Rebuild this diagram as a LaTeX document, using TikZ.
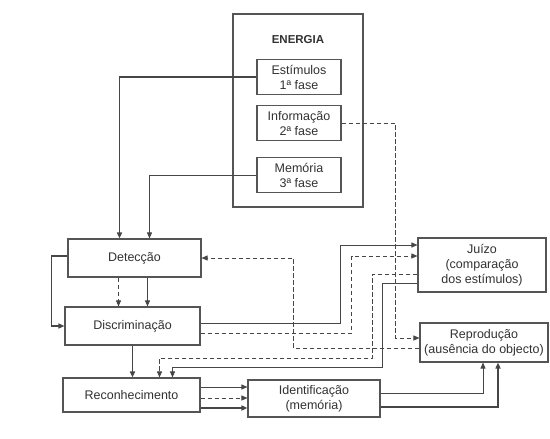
\documentclass[tikz,border=0pt]{standalone}
\usepackage{fontspec}
\setmainfont{Liberation Sans}
\usetikzlibrary{arrows.meta,positioning,calc}
\definecolor{boxgray}{RGB}{85,85,85}
\definecolor{linegray}{RGB}{70,70,70}
\definecolor{textgray}{RGB}{50,50,50}
\tikzset{
    procbox/.style={
        rectangle,
        draw=boxgray,
        line width=1.1pt,
        text=textgray,
        align=center,
        inner sep=1pt,
        font=\fontsize{12.5}{15}\selectfont
    },
    phasebox/.style={
        procbox,
        minimum width=84pt,
        minimum height=35pt
    },
    flow/.style={
        -{Triangle[length=6pt,width=5pt]},
        draw=linegray,
        line width=0.9pt
    },
    flowthick/.style={
        flow,
        line width=1.8pt
    },
    flowdash/.style={
        flow,
        dash pattern=on 4.5pt off 2.5pt
    }
}

\begin{document}
\begin{tikzpicture}[x=1pt, y=-1pt, node distance=10pt]
\useasboundingbox (0,0) rectangle (550,439);
\fill[white] (0,0) rectangle (550,439);

% ENERGIA
\node[draw=boxgray, line width=1.1pt, rectangle, minimum width=130pt, minimum height=193pt] (energia) at (298,110.5) {};
\node[font=\fontsize{11.5}{13}\selectfont\bfseries, text=textgray] (energia-title) at (298,40) {ENERGIA};

% phases
\node[phasebox] (estim) at (299,77) {Estímulos\\1ª fase};
\node[phasebox, below=10pt of estim] (info) {Informação\\2ª fase};
\node[phasebox, below=16pt of info] (memor) {Memória\\3ª fase};

% process boxes
\node[procbox, minimum width=133pt, minimum height=38pt] (detec) at (134.5,258) {Detecção};
\node[procbox, minimum width=135pt, minimum height=38pt] (discr) at (132.5,326) {Discriminação};
\node[procbox, minimum width=137pt, minimum height=34pt] (recon) at (131.5,395) {Reconhecimento};
\node[procbox, minimum width=132pt, minimum height=37pt] (ident) at (314,398.5) {Identificação\\(memória)};
\node[procbox, minimum width=128pt, minimum height=54pt] (juizo) at (482,265) {Juízo\\(comparação\\dos estímulos)};
\node[procbox, minimum width=128pt, minimum height=39pt] (repro) at (484,342.5) {Reprodução\\(ausência do objecto)};

% from the energy phases
\draw[flowthick] (estim.west) -| ([xshift=-15pt]detec.north);
\draw[flow] (memor.west) -| ([xshift=15pt]detec.north);
\draw[flowdash] (info.east) -- ++(54,0) |- ([yshift=4.5pt]repro.west);

% detection and discrimination
\draw[flowdash] ([xshift=-16pt]detec.south) -- ([xshift=-16pt]detec.south |- discr.north);
\draw[flow] ([xshift=13pt]detec.south) -- ([xshift=13pt]detec.south |- discr.north);
\draw[flow, line width=1.3pt] ([yshift=2pt]detec.west) -- ++(-16,0) |- (discr.west);
\draw[flowthick] (discr.south) -- (discr.south |- recon.north);

% towards Juizo
\draw[flow] ([yshift=3pt]discr.east) -- ++(140,0) |- ([yshift=20pt]juizo.west);
\draw[flowdash] ([yshift=-7pt]discr.east) -- ++(151,0) |- ([yshift=9pt]juizo.west);

% back from Juizo
\draw[flowdash] ([yshift=-9pt]juizo.west) -- ++(-45,0) -- ++(0,84) -| ([xshift=28pt]recon.north);
\draw[flow] ([yshift=-18pt]juizo.west) -- ++(-35,0) -- ++(0,84) -| ([xshift=41pt]recon.north);

% back from Reproducao
\draw[flowdash] ([yshift=-5.5pt]repro.west) -| ($(detec.east)+(92,0)$) -- (detec.east);

% recognition to identification
\draw[flow] ([yshift=8pt]recon.east) -- ([yshift=8pt]recon.east -| ident.west);
\draw[flowdash] ([yshift=-3pt]recon.east) -- ([yshift=-3pt]recon.east -| ident.west);
\draw[flowthick] ([yshift=-13pt]recon.east) -- ([yshift=-13pt]recon.east -| ident.west);

% identification to reproduction
\draw[flow] ([yshift=5pt]ident.east) -| ([xshift=-1pt]repro.south);
\draw[flowthick] ([yshift=-8.5pt]ident.east) -| ([xshift=14pt]repro.south);
\end{tikzpicture}
\end{document}
